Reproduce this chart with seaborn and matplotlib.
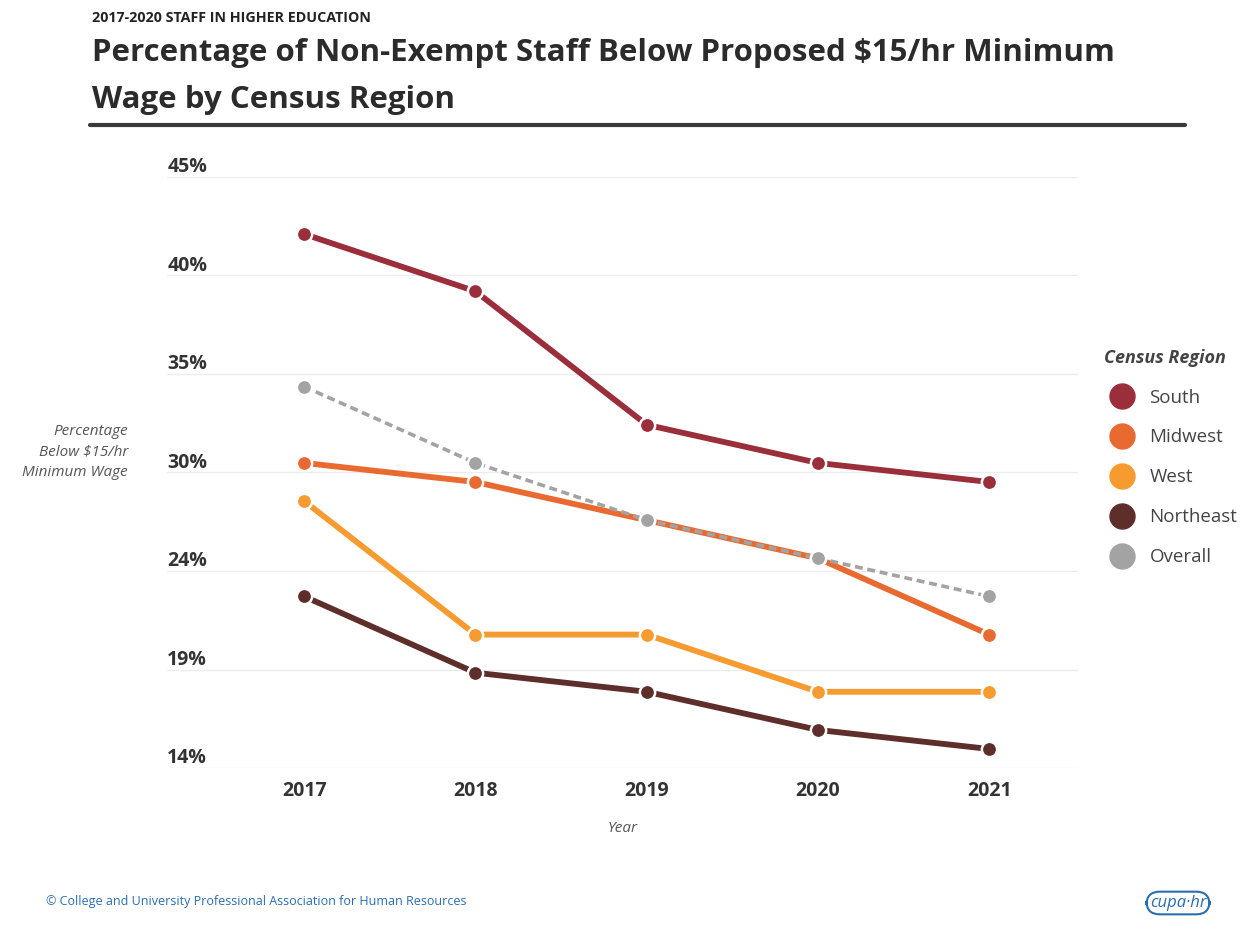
import matplotlib
matplotlib.use("Agg")
import matplotlib.pyplot as plt
from matplotlib.lines import Line2D
import seaborn as sns
import pandas as pd

years = [2017, 2018, 2019, 2020, 2021]
regions = ["South", "Midwest", "West", "Northeast", "Overall"]
south = [42, 39, 32, 30, 29]
midwest = [30, 29, 27, 25, 21]
west = [28, 21, 21, 18, 18]
northeast = [23, 19, 18, 16, 15]
overall = [34, 30, 27, 25, 23]
ytick_vals = [14, 19 + 1 / 6, 24 + 1 / 3, 29.5, 34 + 2 / 3, 39 + 5 / 6, 45]
ytick_labels = ["14%", "19%", "24%", "30%", "35%", "40%", "45%"]

colors = {"South": "#9a2f3b", "Midwest": "#e96a30", "West": "#f59b30",
          "Northeast": "#5e2e2a", "Overall": "#a3a3a3"}

series = {"South": south, "Midwest": midwest, "West": west,
          "Northeast": northeast, "Overall": overall}
rows = []
for r in regions:
    for y, v in zip(years, series[r]):
        rows.append({"Year": y, "Region": r, "Value": v})
df = pd.DataFrame(rows)

sns.set_theme(style="white")
plt.rcParams["font.family"] = ["Open Sans", "DejaVu Sans"]

fig = plt.figure(figsize=(12.48, 9.31), dpi=100)
ax = fig.add_axes([0.134, 0.175, 0.730, 0.635])

order = ["Northeast", "West", "Midwest", "South", "Overall"]
for r in order:
    sub = df[df["Region"] == r]
    is_overall = r == "Overall"
    sns.lineplot(data=sub, x="Year", y="Value", ax=ax, color=colors[r],
                 linewidth=2.6 if is_overall else 4.2,
                 marker="o", markersize=11, markeredgecolor="white",
                 markeredgewidth=1.8, legend=False)
    if is_overall:
        ax.lines[-1].set_dashes((2.2, 1.3))

ax.set_xlim(2016.2, 2021.52)
ax.set_ylim(14, 45)
ax.set_xticks(years)
ax.set_xticklabels([str(y) for y in years], fontsize=14, fontweight="bold", color="#333333")
ax.tick_params(axis="x", length=0, pad=9)
ax.set_yticks(ytick_vals)
ax.set_yticklabels([])
ax.tick_params(axis="y", length=0)
for v, lab in zip(ytick_vals, ytick_labels):
    ax.text(0.0, v + 0.52, lab, transform=ax.get_yaxis_transform(),
            ha="left", va="center", fontsize=14, fontweight="bold", color="#333333")
ax.grid(axis="y", color="#ececec", linewidth=1)
ax.grid(axis="x", visible=False)
for s in ax.spines.values():
    s.set_visible(False)
ax.set_xlabel("Year", fontsize=11, style="italic", color="#555555", labelpad=15)
ax.set_ylabel("")

fig.text(128 / 1248, 1 - 452 / 931, "Percentage\nBelow $15/hr\nMinimum Wage",
         ha="right", va="center", fontsize=11, style="italic", color="#555555",
         linespacing=1.5)

# legend
handles = [Line2D([0], [0], marker="o", linestyle="none", markersize=18,
                  markerfacecolor=colors[r], markeredgecolor=colors[r]) for r in regions]
leg = fig.legend(handles, regions, loc="upper left", bbox_to_anchor=(1098 / 1248, 1 - 343 / 931),
                 frameon=False, fontsize=13.5, title="Census Region",
                 labelspacing=1.17, handletextpad=0.45, labelcolor="#444444",
                 borderaxespad=0, borderpad=0.3)
leg.get_title().set_fontweight("bold")
leg.get_title().set_fontstyle("italic")
leg.get_title().set_fontsize(13)
leg.get_title().set_color("#444444")
leg._legend_box.align = "left"

# titles
fig.text(92 / 1248, 1 - 18 / 931, "2017-2020 STAFF IN HIGHER EDUCATION", ha="left", va="center",
         fontsize=10.3, fontweight="bold", color="#222222")
fig.text(92 / 1248, 1 - 53 / 931, "Percentage of Non-Exempt Staff Below Proposed $15/hr Minimum",
         ha="left", va="center", fontsize=22.5, fontweight="bold", color="#2b2b2b")
fig.text(92 / 1248, 1 - 100 / 931, "Wage by Census Region",
         ha="left", va="center", fontsize=22.5, fontweight="bold", color="#2b2b2b")
fig.add_artist(Line2D([90 / 1248, 1185 / 1248], [1 - 125 / 931, 1 - 125 / 931],
                      color="#3a3a3a", linewidth=3))

fig.text(46 / 1248, 1 - 901 / 931,
         "© College and University Professional Association for Human Resources",
         ha="left", va="center", fontsize=9.0, color="#2a6db0")
fig.text(1178 / 1248, 1 - 903 / 931, "cupa·hr", ha="center", va="center",
         fontsize=12, color="#2a6db0", style="italic",
         bbox=dict(boxstyle="round,pad=0.2,rounding_size=0.8", fc="white", ec="#2a6db0", lw=1.5))

fig.savefig("out.png", dpi=100, facecolor="white")
